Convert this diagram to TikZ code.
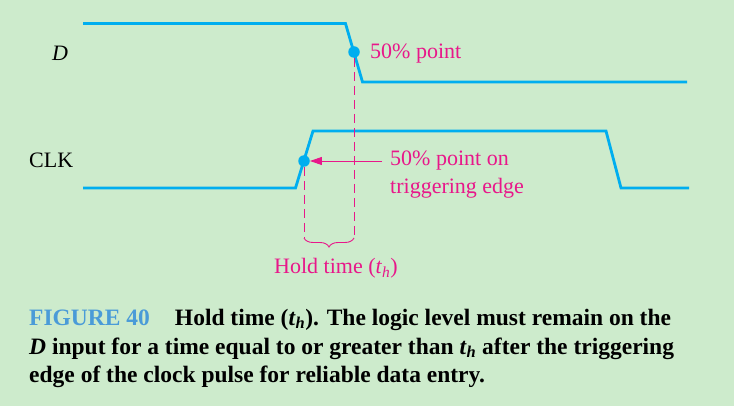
\documentclass[tikz,border=0pt]{standalone}
\usepackage{fontspec}
\setmainfont{Liberation Serif}
\usepackage{tikz}
\usetikzlibrary{arrows.meta,decorations.pathreplacing}
\definecolor{bgGreen}{HTML}{CDEBCC}
\definecolor{sigBlue}{HTML}{00AEEF}
\definecolor{tagPink}{HTML}{E8178A}
\definecolor{figBlue}{HTML}{4A9BD8}
\tikzset{
  sig/.style={draw=sigBlue, line width=2.8pt},
  dot50/.style={circle, fill=sigBlue, inner sep=0pt, minimum size=11.5pt},
  guide/.style={draw=tagPink, line width=0.9pt, dash pattern=on 9pt off 5pt},
  ptr/.style={-{Triangle[length=12pt,width=8pt]}, tagPink, line width=0.9pt},
  lbl/.style={font=\fontsize{22}{26}\selectfont, inner sep=0pt, anchor=base west},
  pinklbl/.style={lbl, text=tagPink},
  capline/.style={font=\fontsize{23.5}{28}\selectfont\bfseries, inner sep=0pt, anchor=base west}
}
\newcommand{\holdt}{\textit{t}\textsubscript{\textit{h}}}

\begin{document}
\begin{tikzpicture}[x=1pt, y=-1pt]
\fill[bgGreen] (0,0) rectangle (734,406);
\useasboundingbox (0,0) rectangle (734,406);
% waveforms
\draw[sig] (83,23.5) -- (345.5,23.5) -- (362.5,82) -- (687,82);
\draw[sig] (83,188) -- (295.5,188) -- (313,131) -- (606,131) -- (621,188) -- (689,188);
\node[lbl] (dname) at (52,61) {\textit{D}};
\node[lbl] (clkname) at (29,168) {CLK};
% 50% points
\node[dot50] (dD) at (354,52) {};
\node[dot50] (dC) at (304,161) {};
\node[pinklbl] (pD) at (370,58.5) {50\% point};
\node[pinklbl, anchor=west, inner xsep=8pt] (trig1) at (382,161) {50\% point on};
\node[pinklbl] (trig2) at (390,193.5) {triggering edge};
\draw[ptr] (trig1.west) -- (dC);
% hold time
\coordinate (hD) at (354,238);
\coordinate (hC) at (304,238);
\draw[guide] (dD.south) -- (hD);
\draw[guide] (dC.south) -- (hC);
\draw[tagPink, line width=0.9pt, decorate, decoration={brace, amplitude=9pt}] (hD) -- (hC);
\node[pinklbl] (hold) at (274,274) {Hold time (\holdt)};
% caption
\node[capline] (cap1) at (29,325) {\textcolor{figBlue}{FIGURE 40}\hspace{25pt}Hold time (\holdt). The logic level must remain on the};
\node[capline] (cap2) at (29,354) {\textit{D} input for a time equal to or greater than \holdt{} after the triggering};
\node[capline] (cap3) at (29,382) {edge of the clock pulse for reliable data entry.};
\end{tikzpicture}
\end{document}
